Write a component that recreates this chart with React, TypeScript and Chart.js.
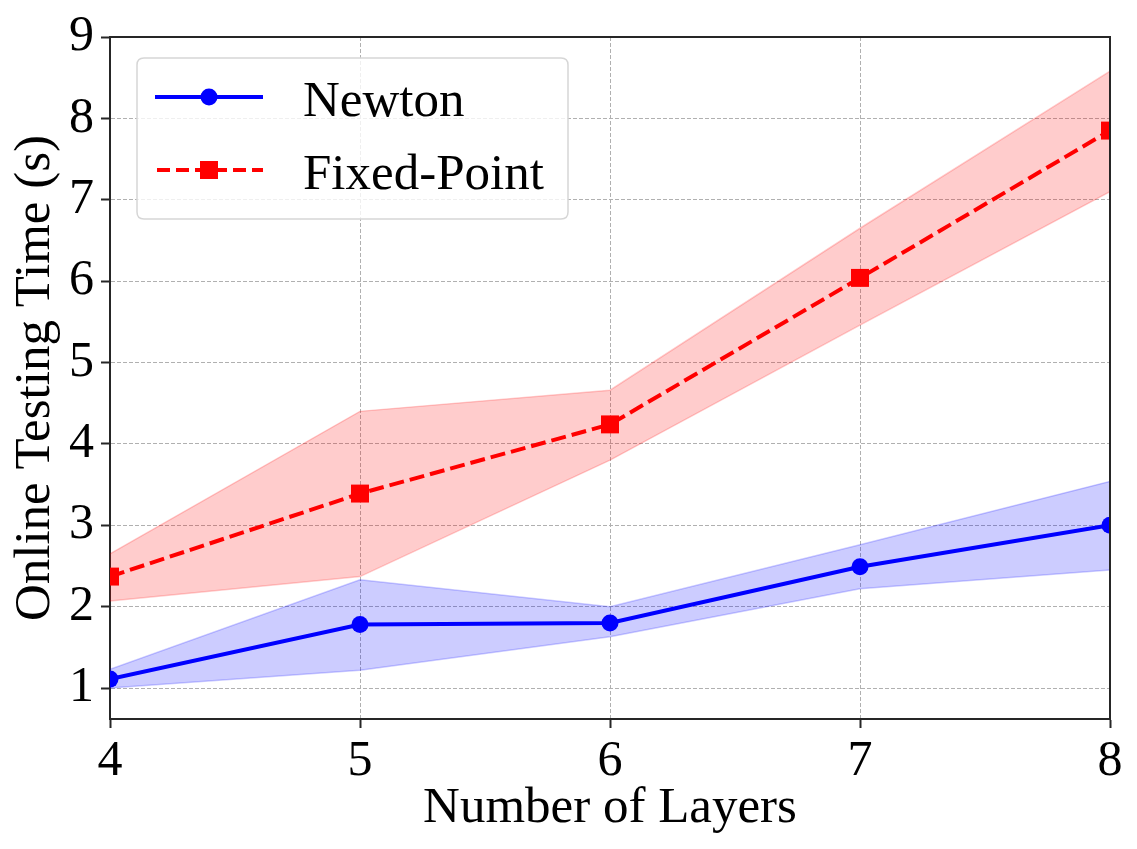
import React, { useEffect, useRef } from "react";
import { Chart, registerables } from "chart.js";

Chart.register(...registerables);

const layers = [4, 5, 6, 7, 8];
const newtonMean = [1.11, 1.78, 1.8, 2.49, 3.0];
const newtonUpper = [1.23, 2.33, 2.0, 2.76, 3.54];
const newtonLower = [1.0, 1.22, 1.63, 2.22, 2.45];
const fixedMean = [2.37, 3.39, 4.24, 6.04, 7.85];
const fixedUpper = [2.65, 4.4, 4.66, 6.65, 8.58];
const fixedLower = [2.07, 2.37, 3.8, 5.46, 7.1];
const yTicks = [1, 2, 3, 4, 5, 6, 7, 8, 9];
const xTicks = [4, 5, 6, 7, 8];
const legendLabels = ["Newton", "Fixed-Point"];

const FONT = "Liberation Serif";

const pts = (ys: number[]) => layers.map((x, i) => ({ x, y: ys[i] }));

const frameAndLegend = {
  id: "frameAndLegend",
  afterDraw(chart: any) {
    const { ctx, chartArea } = chart;
    const { left, right, top, bottom } = chartArea;
    ctx.save();
    ctx.strokeStyle = "#262626";
    ctx.lineWidth = 2;
    ctx.beginPath();
    ctx.moveTo(left, top);
    ctx.lineTo(right, top);
    ctx.lineTo(right, bottom);
    ctx.stroke();

    const bx = 137, by = 58, bw = 431, bh = 161, r = 7;
    ctx.beginPath();
    ctx.moveTo(bx + r, by);
    ctx.lineTo(bx + bw - r, by);
    ctx.quadraticCurveTo(bx + bw, by, bx + bw, by + r);
    ctx.lineTo(bx + bw, by + bh - r);
    ctx.quadraticCurveTo(bx + bw, by + bh, bx + bw - r, by + bh);
    ctx.lineTo(bx + r, by + bh);
    ctx.quadraticCurveTo(bx, by + bh, bx, by + bh - r);
    ctx.lineTo(bx, by + r);
    ctx.quadraticCurveTo(bx, by, bx + r, by);
    ctx.closePath();
    ctx.fillStyle = "rgba(255,255,255,0.8)";
    ctx.fill();
    ctx.strokeStyle = "#d6d6d6";
    ctx.lineWidth = 1.5;
    ctx.stroke();

    const y1 = 97, y2 = 170;
    ctx.strokeStyle = "#0000ff";
    ctx.lineWidth = 4;
    ctx.beginPath();
    ctx.moveTo(155, y1);
    ctx.lineTo(263, y1);
    ctx.stroke();
    ctx.fillStyle = "#0000ff";
    ctx.beginPath();
    ctx.arc(209, y1, 8.5, 0, Math.PI * 2);
    ctx.fill();

    ctx.strokeStyle = "#ff0000";
    ctx.setLineDash([13, 6]);
    ctx.beginPath();
    ctx.moveTo(157, y2);
    ctx.lineTo(263, y2);
    ctx.stroke();
    ctx.setLineDash([]);
    ctx.fillStyle = "#ff0000";
    ctx.fillRect(200, y2 - 9, 18, 18);

    ctx.fillStyle = "#000000";
    ctx.font = `51px "${FONT}"`;
    ctx.textBaseline = "alphabetic";
    ctx.textAlign = "left";
    ctx.fillText(legendLabels[0], 303, y1 + 19);
    ctx.fillText(legendLabels[1], 303, y2 + 19);
    ctx.restore();
  },
};

export default function App() {
  const ref = useRef<HTMLCanvasElement>(null);
  useEffect(() => {
    let chart: any = null;
    let cancelled = false;
    const make = () => {
      if (cancelled) return;
      const canvas = ref.current!;
      chart = new Chart(canvas, {
        type: "line",
        data: {
          datasets: [
            {
              label: "Newton",
              data: pts(newtonMean),
              borderColor: "#0000ff",
              backgroundColor: "#0000ff",
              borderWidth: 4,
              pointRadius: 8.5,
              pointStyle: "circle",
              pointBorderWidth: 0,
              fill: false,
              clip: 0,
              order: 0,
            },
            {
              label: "Fixed-Point",
              data: pts(fixedMean),
              borderColor: "#ff0000",
              backgroundColor: "#ff0000",
              borderWidth: 4,
              borderDash: [15, 6],
              pointRadius: 12.7,
              pointStyle: "rect",
              pointBorderWidth: 0,
              fill: false,
              clip: 0,
              order: 1,
            },
            {
              label: "nu",
              data: pts(newtonUpper),
              borderColor: "rgba(0,0,255,0.2)",
              backgroundColor: "rgba(0,0,255,0.2)",
              borderWidth: 1.5,
              pointRadius: 0,
              fill: "+1",
              clip: 0,
              order: 2,
            },
            {
              label: "nl",
              data: pts(newtonLower),
              borderColor: "rgba(0,0,255,0.2)",
              backgroundColor: "rgba(0,0,255,0.2)",
              borderWidth: 1.5,
              pointRadius: 0,
              fill: false,
              clip: 0,
              order: 3,
            },
            {
              label: "fu",
              data: pts(fixedUpper),
              borderColor: "rgba(255,0,0,0.2)",
              backgroundColor: "rgba(255,0,0,0.2)",
              borderWidth: 1.5,
              pointRadius: 0,
              fill: "+1",
              clip: 0,
              order: 4,
            },
            {
              label: "fl",
              data: pts(fixedLower),
              borderColor: "rgba(255,0,0,0.2)",
              backgroundColor: "rgba(255,0,0,0.2)",
              borderWidth: 1.5,
              pointRadius: 0,
              fill: false,
              clip: 0,
              order: 5,
            },
          ],
        },
        options: {
          animation: false,
          responsive: false,
          maintainAspectRatio: false,
          layout: { padding: { left: 0, right: 27, top: 32, bottom: 0 } },
          plugins: {
            legend: { display: false },
            tooltip: { enabled: false },
          },
          scales: {
            x: {
              type: "linear",
              min: 4,
              max: 8,
              afterBuildTicks: (s: any) => {
                s.ticks = xTicks.map((v) => ({ value: v }));
              },
              afterFit: (s: any) => {
                s.height = 130;
              },
              ticks: {
                font: { family: `"${FONT}"`, size: 50 },
                color: "#000000",
                padding: 4,
                maxRotation: 0,
              },
              grid: {
                color: "#b0b0b0",
                lineWidth: 1,
                tickLength: 9,
                tickColor: "#262626",
                tickWidth: 2,
                tickBorderDash: [],
              },
              border: { display: true, color: "#262626", width: 2, dash: [4, 2] },
              title: {
                display: true,
                text: "Number of Layers",
                font: { family: `"${FONT}"`, size: 51 },
                color: "#000000",
                padding: { top: 0, bottom: 10 },
              },
            },
            y: {
              type: "linear",
              min: 0.62,
              max: 9,
              afterBuildTicks: (s: any) => {
                s.ticks = yTicks.map((v) => ({ value: v }));
              },
              afterFit: (s: any) => {
                s.width = 110;
              },
              ticks: {
                font: { family: `"${FONT}"`, size: 50 },
                color: "#000000",
                padding: 7,
              },
              grid: {
                color: "#b0b0b0",
                lineWidth: 1,
                tickLength: 9,
                tickColor: "#262626",
                tickWidth: 2,
                tickBorderDash: [],
              },
              border: { display: true, color: "#262626", width: 2, dash: [4, 2] },
              title: {
                display: true,
                text: "Online Testing Time (s)",
                font: { family: `"${FONT}"`, size: 51 },
                color: "#000000",
                padding: { top: 5, bottom: 0 },
              },
            },
          },
        },
        plugins: [frameAndLegend],
      });
    };
    const fonts: any = (document as any).fonts;
    if (fonts && fonts.load) {
      fonts.load(`50px "${FONT}"`).then(make, make);
    } else {
      make();
    }
    return () => {
      cancelled = true;
      if (chart) chart.destroy();
    };
  }, []);
  return (
    <div style={{ position: "fixed", left: 0, top: 0, width: 1137, height: 849, background: "#ffffff" }}>
      <span style={{ position: "absolute", left: -9999, fontFamily: `"${FONT}"` }}>Newton 0123456789</span>
      <canvas ref={ref} width={1137} height={849} style={{ width: 1137, height: 849 }} />
    </div>
  );
}
